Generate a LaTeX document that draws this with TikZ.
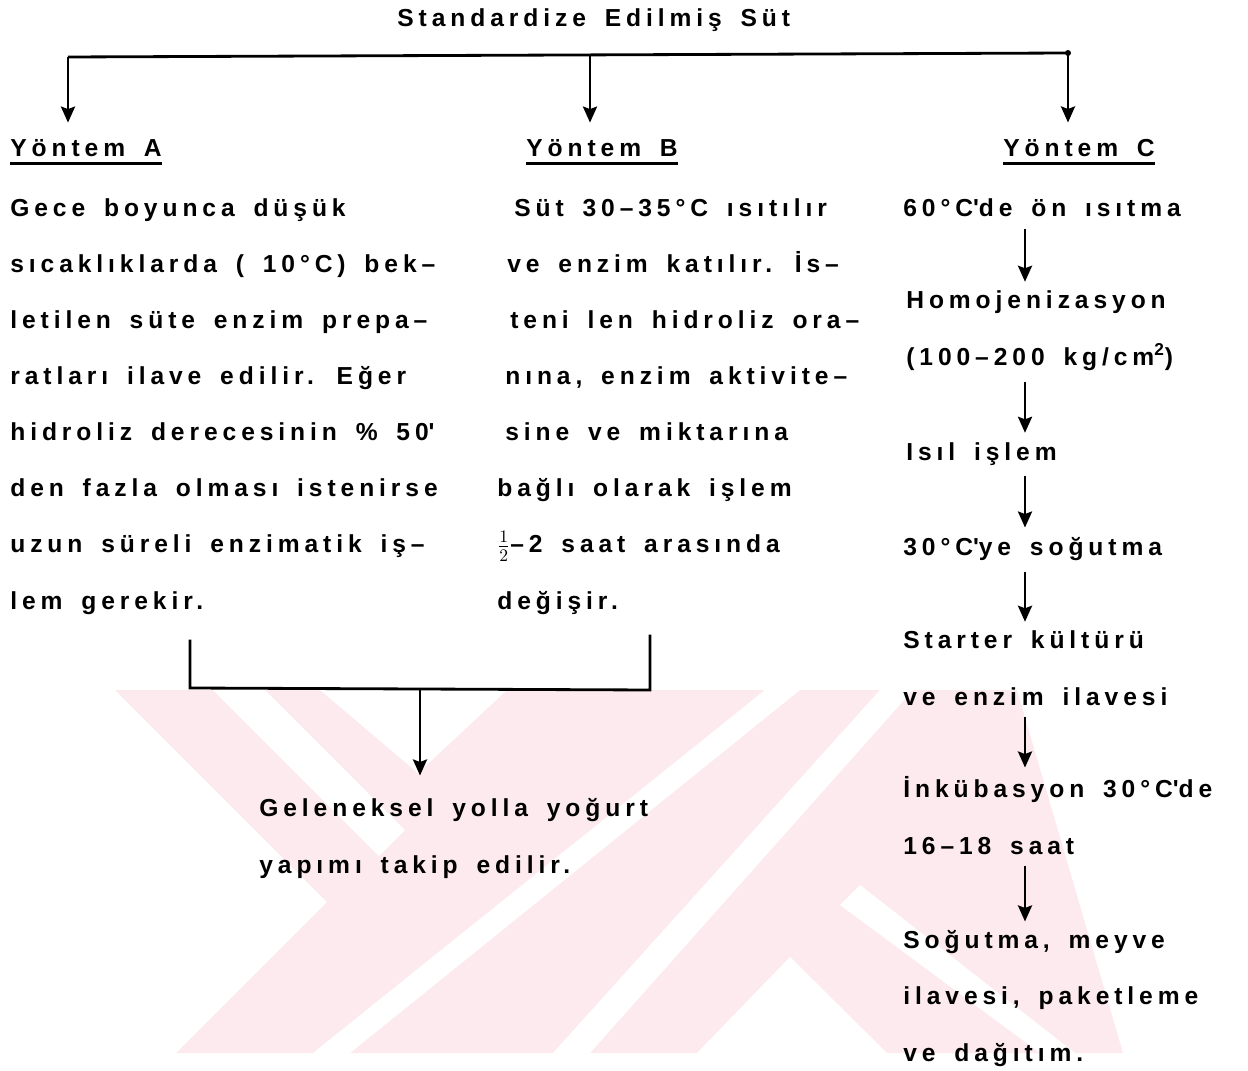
\documentclass[tikz,border=0pt]{standalone}
\usepackage{fontspec}
\setmainfont{Liberation Sans}[LetterSpace=20,WordSpace=1.6]
\usetikzlibrary{calc}
\usetikzlibrary{arrows.meta}
\usepackage{xcolor}
\definecolor{filigran}{RGB}{252,234,238}

\begin{document}
\begin{tikzpicture}[x=0.02cm,y=-0.02cm,
  yazi/.style={font=\bfseries\fontsize{14}{31.9}\selectfont,inner sep=0pt,anchor=base west,align=left},
  cizgi/.style={line width=1.6pt},
  ok/.style={cizgi,-{Stealth[length=0.32cm,width=0.28cm,inset=0.05cm]}},
  okust/.style={ok,shorten >=0.34cm},
  okC/.style={ok,shorten <=0.22cm,shorten >=0.18cm},
  alti/.style={line width=1.2pt}]
\useasboundingbox (0,0) rectangle (1248,1071);
\fill[filigran] (115,690) -- (1017,690) -- (1123,1053) -- (176,1053) -- (327,902) -- cycle;
\fill[white] (213,690) -- (265,690) -- (405,830) -- (379,856) -- cycle;
\fill[white] (320,690) -- (507,690) -- (418,773) -- cycle;
\fill[white] (765,690) -- (800,690) -- (350,1053) -- (313,1053) -- cycle;
\fill[white] (880,690) -- (913,690) -- (590,1053) -- (553,1053) -- cycle;
\fill[white] (790,957) -- (887,1053) -- (697,1053) -- cycle;
\fill[white] (860,885) -- (1075,1053) -- (1040,1053) -- (840,905) -- cycle;

\node[yazi] (baslik) at (397,27) {Standardize Edilmiş Süt};
\node[yazi] (yA) at (10,157) {Yöntem A};
\node[yazi] (yB) at (526,157) {Yöntem B};
\node[yazi] (yC) at (1003,157) {Yöntem C};
\draw[alti] ([yshift=-0.13cm]yA.base west) -- ([yshift=-0.13cm]yA.base east);
\draw[alti] ([yshift=-0.13cm]yB.base west) -- ([yshift=-0.13cm]yB.base east);
\draw[alti] ([yshift=-0.13cm]yC.base west) -- ([yshift=-0.13cm]yC.base east);

\node[yazi] (metinA) at (10,609) {Gece boyunca düşük\\
sıcaklıklarda ( 10°C) bek--\\
letilen süte enzim prepa--\\
ratları ilave edilir. Eğer\\
hidroliz derecesinin \% 50\textquotesingle\\
den fazla olması istenirse\\
uzun süreli enzimatik iş--\\
lem gerekir.};
\node[yazi] (metinB) at (497,609) {\hspace*{0.34cm}Süt 30--35°C ısıtılır\\
\hspace*{0.2cm}ve enzim katılır. İs--\\
\hspace*{0.26cm}teni len hidroliz ora--\\
\hspace*{0.16cm}nına, enzim aktivite--\\
\hspace*{0.16cm}sine ve miktarına\\
bağlı olarak işlem\\
$\frac{1}{2}$--2 saat arasında\\
değişir.};

\node[yazi] (onisit) at (903,217) {60°C\textquotesingle de ön ısıtma};
\node[yazi] (homo) at (906,365) {Homojenizasyon\\(100--200 kg/cm\textsuperscript{2})};
\node[yazi] (isil) at (906,460) {Isıl işlem};
\node[yazi] (sogut) at (903,555) {30°C\textquotesingle ye soğutma};
\node[yazi] (starter) at (903,705) {Starter kültürü\\ve enzim ilavesi};
\node[yazi] (inkub) at (903,854) {İnkübasyon 30°C\textquotesingle de\\16--18 saat};
\node[yazi] (son) at (903,1061) {Soğutma, meyve\\ilavesi, paketleme\\ve dağıtım.};

\node[yazi] (geleneksel) at (259,873) {Geleneksel yolla yoğurt\\yapımı takip edilir.};

\coordinate (kolA) at (68,57);
\coordinate (kolB) at (590,55);
\coordinate (kolC) at (1068,53);
\draw[cizgi] (kolA) -- (kolC);
\fill (kolC) circle (0.06cm);
\draw[okust] (kolA) -- (yA.north -| kolA);
\draw[okust] (kolB) -- (yB.north -| kolB);
\draw[okust] (kolC) -- (yC.north -| kolC);

\coordinate (kA) at (190,688);
\coordinate (kB) at (650,690);
\coordinate (kOrta) at (420,689);
\draw[cizgi,shorten <=0.5cm,shorten >=0.4cm] (metinA.south -| kA) -- (kA) -- (kB) -- (metinB.south -| kB);
\draw[ok,shorten >=0.46cm] (kOrta) -- (geleneksel.north -| kOrta);

\coordinate (eksenC) at (1025,0);
\draw[okC] (onisit.south -| eksenC) -- (homo.north -| eksenC);
\draw[okC] (homo.south -| eksenC) -- (isil.north -| eksenC);
\draw[okC] (isil.south -| eksenC) -- (sogut.north -| eksenC);
\draw[okC] (sogut.south -| eksenC) -- (starter.north -| eksenC);
\draw[okC] (starter.south -| eksenC) -- (inkub.north -| eksenC);
\draw[okC] (inkub.south -| eksenC) -- (son.north -| eksenC);
\end{tikzpicture}
\end{document}
